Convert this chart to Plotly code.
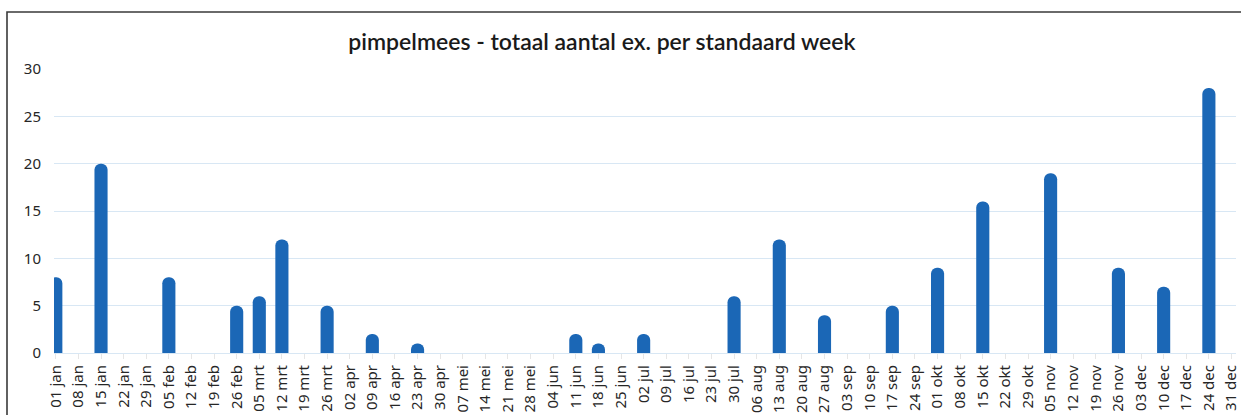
import plotly.graph_objects as go

weeks = ["01 jan", "08 jan", "15 jan", "22 jan", "29 jan", "05 feb", "12 feb", "19 feb", "26 feb",
         "05 mrt", "12 mrt", "19 mrt", "26 mrt", "02 apr", "09 apr", "16 apr", "23 apr", "30 apr",
         "07 mei", "14 mei", "21 mei", "28 mei", "04 jun", "11 jun", "18 jun", "25 jun",
         "02 jul", "09 jul", "16 jul", "23 jul", "30 jul", "06 aug", "13 aug", "20 aug", "27 aug",
         "03 sep", "10 sep", "17 sep", "24 sep", "01 okt", "08 okt", "15 okt", "22 okt", "29 okt",
         "05 nov", "12 nov", "19 nov", "26 nov", "03 dec", "10 dec", "17 dec", "24 dec", "31 dec"]

counts = [8, 0, 20, 0, 0, 8, 0, 0, 5,
          6, 12, 0, 5, 0, 2, 0, 1, 0,
          0, 0, 0, 0, 0, 2, 1, 0,
          2, 0, 0, 0, 6, 0, 12, 0, 4,
          0, 0, 5, 0, 9, 0, 16, 0, 0,
          19, 0, 0, 9, 0, 7, 0, 28, 0]

y_ticks = [0, 5, 10, 15, 20, 25, 30]

title_text = "pimpelmees - totaal aantal ex. per standaard week"

W, H = 1241, 415
L, R, T, B = 54, 5, 69, 62
pw, ph = W - L - R, H - T - B

def px_to_paper_x(px):
    return (px - L) / pw

def py_to_paper_y(py):
    return (H - B - py) / ph

fig = go.Figure()
fig.add_trace(go.Bar(
    x=weeks, y=counts,
    width=0.58,
    marker=dict(color="#1b67b6", cornerradius=6, line=dict(width=0)),
))

fig.update_layout(
    width=W, height=H,
    margin=dict(l=L, r=R, t=T, b=B),
    plot_bgcolor="white", paper_bgcolor="white",
    showlegend=False,
    title=dict(text=title_text, x=0.485, xref="container", xanchor="center",
               y=1 - 42 / H, yref="container", yanchor="middle",
               font=dict(family="Lato", size=23, color="#1a1a1a", weight=600)),
    xaxis=dict(type="category", range=[-0.08, 52.2], tickangle=-90,
               showgrid=False, ticks="outside", ticklen=5, tickcolor="#e6e6e6",
               tickfont=dict(family="Noto Sans", size=15, color="#262626"),
               showline=False, zeroline=False, automargin=False),
    yaxis=dict(range=[0, 30], tickvals=y_ticks, showgrid=True, gridcolor="#d8e7f4",
               gridwidth=1, zeroline=True, zerolinecolor="#d8e7f4", zerolinewidth=1,
               ticklabelstandoff=12, automargin=False,
               tickfont=dict(family="Noto Sans", size=15, color="#262626")),
    bargap=0.4,
)

# outer frame (top and left edges visible in the reference)
fig.add_shape(type="path", xref="paper", yref="paper",
              path=f"M {px_to_paper_x(7)} {py_to_paper_y(420)} L {px_to_paper_x(7)} {py_to_paper_y(12)} L {px_to_paper_x(1245)} {py_to_paper_y(12)}",
              line=dict(color="#3a3a3a", width=1.6), layer="above")

fig.write_html("out.html", config={"displayModeBar": False},
               post_script="document.body.style.margin='0';document.body.style.overflow='hidden';")
